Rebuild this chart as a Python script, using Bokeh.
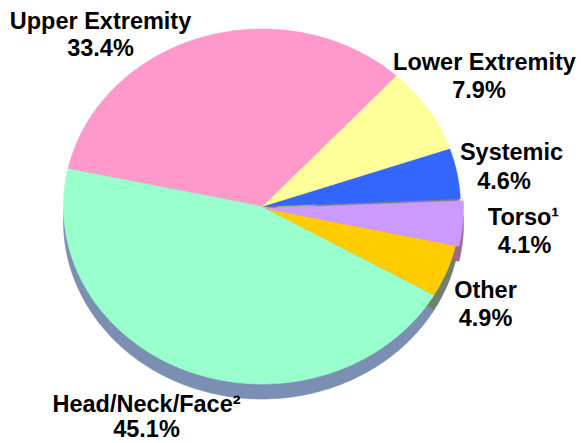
import numpy as np
from bokeh.plotting import figure
from bokeh.models import ColumnDataSource, Range1d
from bokeh.core.properties import value
from bokeh.embed import file_html
from bokeh.resources import INLINE

# ---- data (counter-clockwise order starting just above 3 o'clock) ----
categories = ["Systemic", "Lower Extremity", "Upper Extremity", "Head/Neck/Face", "Other", "Torso"]
label_names = ["Systemic", "Lower Extremity", "Upper Extremity", "Head/Neck/Face\u00b2", "Other", "Torso\u00b9"]
percents = [4.6, 7.9, 33.4, 45.1, 4.9, 4.1]

# ---- styles / layout ----
face_colors = ["#3366ff", "#ffff99", "#ff99cc", "#99ffcc", "#ffcc00", "#cc99ff"]
side_colors = ["#7f7f8c", "#b3b36b", "#b36b8f", "#7b8fb3", "#6e806a", "#9a6a88"]
explode_dx = [0, 0, 0, 0, 0, 3]
explode_dy = [0, 0, 0, 0, 0, 2]
start_deg = 2.5
cx, cy, rx, ry, depth = 261.5, 206.0, 198.5, 177.5, 15.0

# label anchors (centre x, baseline y) for name line and percent line
name_x = [511, 484, 100, 146, 485, 523]
name_y = [159, 69, 28, 411, 297, 224]
pct_x = [503.5, 478.5, 100, 146, 485, 524]
pct_y = [188, 97, 55, 436, 325, 252]

W, H = 581, 443
p = figure(width=W, height=H, output_backend="svg", toolbar_location=None,
           x_range=Range1d(0, W), y_range=Range1d(H, 0),
           min_border=0, outline_line_color=None)
p.axis.visible = False
p.grid.visible = False
p.background_fill_color = "white"
p.border_fill_color = "white"

fr = np.array(percents) / sum(percents)
ends = start_deg + np.cumsum(fr) * 360.0
starts = ends - fr * 360.0

face_xs, face_ys, side_xs, side_ys = [], [], [], []
for a0, a1, dx, dy in zip(starts, ends, explode_dx, explode_dy):
    t = np.radians(np.linspace(a0, a1, 200))
    xs = np.concatenate([[cx + dx], cx + dx + rx * np.cos(t)])
    ys = np.concatenate([[cy + dy], cy + dy - ry * np.sin(t)])
    face_xs.append(list(xs)); face_ys.append(list(ys))
    side_xs.append(list(xs)); side_ys.append(list(ys + depth))

side_src = ColumnDataSource(dict(xs=side_xs, ys=side_ys, c=side_colors))
face_src = ColumnDataSource(dict(xs=face_xs, ys=face_ys, c=face_colors))
p.patches("xs", "ys", source=side_src, fill_color="c", line_color="c", line_width=0.6)
p.patches("xs", "ys", source=face_src, fill_color="c", line_color="c", line_width=0.6)

pct_text = [f"{v:.1f}%" for v in percents]
lab_src = ColumnDataSource(dict(nx=name_x, ny=name_y, px=pct_x, py=pct_y,
                                name=label_names, pct=pct_text))
common = dict(text_font=value("Liberation Sans"), text_font_style="bold",
              text_font_size="23.5px", text_align="center",
              text_baseline="alphabetic", text_color="black", y_offset=-8)
p.text(x="nx", y="ny", text="name", source=lab_src, **common)
p.text(x="px", y="py", text="pct", source=lab_src, **common)

open("out.html", "w").write(file_html(p, INLINE))
